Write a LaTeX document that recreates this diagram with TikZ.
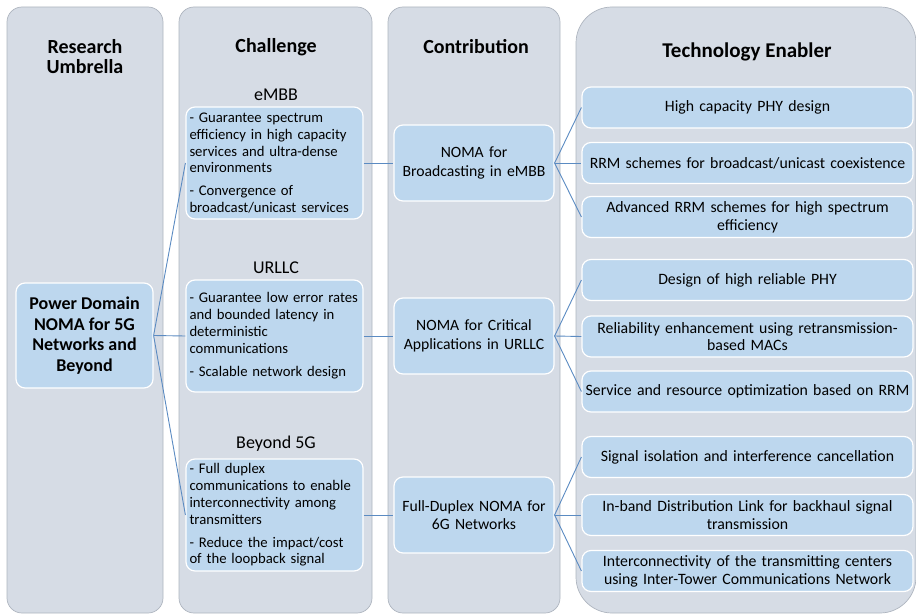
\documentclass[tikz,border=0pt]{standalone}
\usepackage{fontspec}
\setmainfont{Carlito}
\definecolor{colfill}{HTML}{D6DCE5}
\definecolor{colline}{HTML}{AEB5BF}
\definecolor{boxfill}{HTML}{BDD7EE}
\definecolor{linkcol}{HTML}{5B8BC2}
\begin{document}
\begin{tikzpicture}[x=1pt,y=-1pt,
  column/.style={fill=colfill,draw=colline,line width=0.7pt},
  head/.style={font=\bfseries\fontsize{20}{20}\selectfont,align=center,inner sep=0pt},
  group/.style={font=\fontsize{18}{21}\selectfont,inner sep=0pt},
  box/.style={fill=boxfill,draw=white,line width=1.2pt,rounded corners=9pt},
  rootbox/.style={box,minimum width=137pt,minimum height=105pt,align=center,
    font=\bfseries\fontsize{18}{20.5}\selectfont},
  chbox/.style={box,text width=170pt,inner xsep=3.5pt,minimum height=112pt,align=left,
    font=\fontsize{14.7}{16.8}\selectfont},
  cobox/.style={box,minimum width=160pt,minimum height=76pt,text width=156pt,inner xsep=2pt,
    align=center,font=\fontsize{15.7}{18.7}\selectfont},
  tebox/.style={box,minimum width=331pt,minimum height=41pt,text width=331pt,inner xsep=0pt,
    align=center,font=\fontsize{15.8}{17.8}\selectfont},
  link/.style={draw=linkcol,line width=0.9pt}]
\useasboundingbox (0,0) rectangle (916,615);
\clip (0,0) rectangle (916,615);

% column backgrounds
\path[column,rounded corners=15pt] (7,7) rectangle (163,613);
\path[column,rounded corners=15pt] (179,7) rectangle (372,613);
\path[column,rounded corners=15pt] (388,7) rectangle (560,613);
\path[column,rounded corners=36pt] (576,7) rectangle (916,613);

% column headings
\node[head] (h1) at (85,57) {Research\\Umbrella};
\node[head] (h2) at (276,47) {Challenge};
\node[head] (h3) at (476,47) {Contribution};
\node[head,font=\bfseries\fontsize{21}{21}\selectfont] (h4) at (747,52) {Technology Enabler};

% service groups
\node[group] (g1) at (276,95) {eMBB};
\node[group] (g2) at (276,268) {URLLC};
\node[group] (g3) at (276,444) {Beyond 5G};

% research umbrella
\node[rootbox] (root) at (84.5,335.5) {Power Domain\\NOMA for 5G\\Networks and\\Beyond};

% challenges
\node[chbox] (ch1) at (274.5,163) {- Guarantee spectrum\\efficiency in high capacity\\services and ultra-dense\\environments\\[6pt]- Convergence of\\broadcast/unicast services};
\node[chbox] (ch2) at (274.5,336) {- Guarantee low error rates\\and bounded latency in\\deterministic\\communications\\[7pt]- Scalable network design};
\node[chbox] (ch3) at (274.5,515) {- Full duplex\\communications to enable\\interconnectivity among\\transmitters\\[6pt]- Reduce the impact/cost\\of the loopback signal};

% contributions
\node[cobox] (co1) at (474,163) {NOMA for\\Broadcasting in eMBB};
\node[cobox] (co2) at (474,336) {NOMA for Critical\\Applications in URLLC};
\node[cobox] (co3) at (474,515) {Full-Duplex NOMA for\\6G Networks};

% technology enablers
\node[tebox] (t1) at (747.5,107.5) {High capacity PHY design};
\node[tebox] (t2) at (747.5,163) {RRM schemes for broadcast/unicast coexistence};
\node[tebox] (t3) at (747.5,217) {Advanced RRM schemes for high spectrum\\efficiency};
\node[tebox] (t4) at (747.5,280) {Design of high reliable PHY};
\node[tebox] (t5) at (747.5,336.5) {Reliability enhancement using retransmission-\\based MACs};
\node[tebox] (t6) at (747.5,391.5) {Service and resource optimization based on RRM};
\node[tebox] (t7) at (747.5,457) {Signal isolation and interference cancellation};
\node[tebox] (t8) at (747.5,515) {In-band Distribution Link for backhaul signal\\transmission};
\node[tebox] (t9) at (747.5,571) {Interconnectivity of the transmitting centers\\using Inter-Tower Communications Network};

% connectors
\foreach \c in {ch1,ch2,ch3} \draw[link] (root.east) -- (\c.west);
\draw[link] (ch1.east) -- (co1.west);
\draw[link] (ch2.east) -- (co2.west);
\draw[link] (ch3.east) -- (co3.west);
\foreach \t in {t1,t2,t3} \draw[link] (co1.east) -- (\t.west);
\foreach \t in {t4,t5,t6} \draw[link] (co2.east) -- (\t.west);
\foreach \t in {t7,t8,t9} \draw[link] (co3.east) -- (\t.west);
\end{tikzpicture}
\end{document}
